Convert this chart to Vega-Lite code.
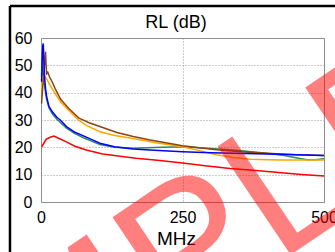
{
  "$schema": "https://vega.github.io/schema/vega-lite/v6.json",
  "autosize": {"type": "none"},
  "width": 283,
  "height": 164,
  "padding": {"left": 41, "top": 38, "right": 11, "bottom": 50},
  "background": "white",
  "config": {
    "font": "Liberation Sans",
    "view": {"stroke": "#888888", "strokeWidth": 1},
    "axis": {
      "domain": false,
      "ticks": false,
      "tickSize": 0,
      "labelFont": "Liberation Sans",
      "labelFontSize": 16,
      "labelColor": "#000000",
      "gridColor": "#999999",
      "gridDash": [1, 2],
      "gridWidth": 1,
      "titleFont": "Liberation Sans",
      "titleFontWeight": "normal",
      "titleColor": "#000000"
    }
  },
  "resolve": {"axis": {"x": "independent", "y": "independent"}},
  "datasets": {
    "rl": [
      {"series": "red", "f": 1, "db": 20.2},
      {"series": "red", "f": 5, "db": 21.5},
      {"series": "red", "f": 9, "db": 22.9},
      {"series": "red", "f": 15, "db": 23.6},
      {"series": "red", "f": 23, "db": 24.1},
      {"series": "red", "f": 30, "db": 23.4},
      {"series": "red", "f": 44, "db": 22.1},
      {"series": "red", "f": 60, "db": 20.4},
      {"series": "red", "f": 80, "db": 19.0},
      {"series": "red", "f": 109, "db": 17.6},
      {"series": "red", "f": 140, "db": 16.7},
      {"series": "red", "f": 168, "db": 16.0},
      {"series": "red", "f": 210, "db": 15.2},
      {"series": "red", "f": 250, "db": 14.3},
      {"series": "red", "f": 290, "db": 13.3},
      {"series": "red", "f": 334, "db": 12.3},
      {"series": "red", "f": 380, "db": 11.5},
      {"series": "red", "f": 420, "db": 10.8},
      {"series": "red", "f": 460, "db": 10.1},
      {"series": "red", "f": 500, "db": 9.5},

      {"series": "green", "f": 1, "db": 46},
      {"series": "green", "f": 2, "db": 52.5},
      {"series": "green", "f": 3, "db": 49},
      {"series": "green", "f": 4, "db": 46},
      {"series": "green", "f": 6, "db": 43},
      {"series": "green", "f": 8, "db": 40},
      {"series": "green", "f": 10, "db": 37.5},
      {"series": "green", "f": 14, "db": 34.5},
      {"series": "green", "f": 20, "db": 32.3},
      {"series": "green", "f": 28, "db": 30.3},
      {"series": "green", "f": 45, "db": 27},
      {"series": "green", "f": 60, "db": 25},
      {"series": "green", "f": 75, "db": 23.5},
      {"series": "green", "f": 104, "db": 21.0},
      {"series": "green", "f": 130, "db": 20.0},
      {"series": "green", "f": 163, "db": 19.7},
      {"series": "green", "f": 200, "db": 19.9},
      {"series": "green", "f": 250, "db": 20.2},
      {"series": "green", "f": 300, "db": 19.6},
      {"series": "green", "f": 340, "db": 19.0},
      {"series": "green", "f": 390, "db": 18.0},
      {"series": "green", "f": 430, "db": 17.0},
      {"series": "green", "f": 455, "db": 16.0},
      {"series": "green", "f": 470, "db": 15.5},
      {"series": "green", "f": 485, "db": 15.5},
      {"series": "green", "f": 500, "db": 15.8},

      {"series": "orange", "f": 1, "db": 40},
      {"series": "orange", "f": 2, "db": 44},
      {"series": "orange", "f": 4, "db": 46},
      {"series": "orange", "f": 6, "db": 46},
      {"series": "orange", "f": 8, "db": 45.5},
      {"series": "orange", "f": 10, "db": 45},
      {"series": "orange", "f": 15, "db": 43},
      {"series": "orange", "f": 20, "db": 41.3},
      {"series": "orange", "f": 25, "db": 39.7},
      {"series": "orange", "f": 35, "db": 36.5},
      {"series": "orange", "f": 50, "db": 33.3},
      {"series": "orange", "f": 66, "db": 30},
      {"series": "orange", "f": 80, "db": 28},
      {"series": "orange", "f": 104, "db": 25.7},
      {"series": "orange", "f": 130, "db": 24.3},
      {"series": "orange", "f": 163, "db": 23.2},
      {"series": "orange", "f": 200, "db": 21.8},
      {"series": "orange", "f": 250, "db": 20.2},
      {"series": "orange", "f": 280, "db": 18.8},
      {"series": "orange", "f": 310, "db": 17.3},
      {"series": "orange", "f": 340, "db": 16.3},
      {"series": "orange", "f": 369, "db": 15.6},
      {"series": "orange", "f": 420, "db": 15.4},
      {"series": "orange", "f": 500, "db": 15.4},

      {"series": "brown", "f": 1, "db": 36},
      {"series": "brown", "f": 3, "db": 42},
      {"series": "brown", "f": 5, "db": 46},
      {"series": "brown", "f": 7, "db": 53},
      {"series": "brown", "f": 8, "db": 55},
      {"series": "brown", "f": 9, "db": 50},
      {"series": "brown", "f": 10, "db": 47},
      {"series": "brown", "f": 12, "db": 47.5},
      {"series": "brown", "f": 15, "db": 45.8},
      {"series": "brown", "f": 20, "db": 43.8},
      {"series": "brown", "f": 25, "db": 41.5},
      {"series": "brown", "f": 35, "db": 37.5},
      {"series": "brown", "f": 50, "db": 34},
      {"series": "brown", "f": 67, "db": 30.7},
      {"series": "brown", "f": 85, "db": 29},
      {"series": "brown", "f": 104, "db": 27.6},
      {"series": "brown", "f": 134, "db": 25.4},
      {"series": "brown", "f": 163, "db": 24.0},
      {"series": "brown", "f": 193, "db": 22.7},
      {"series": "brown", "f": 250, "db": 20.6},
      {"series": "brown", "f": 310, "db": 19.1},
      {"series": "brown", "f": 360, "db": 18.3},
      {"series": "brown", "f": 400, "db": 17.8},
      {"series": "brown", "f": 450, "db": 17.3},
      {"series": "brown", "f": 500, "db": 17.0},

      {"series": "blue", "f": 1, "db": 44},
      {"series": "blue", "f": 2, "db": 52},
      {"series": "blue", "f": 3, "db": 57},
      {"series": "blue", "f": 4, "db": 58},
      {"series": "blue", "f": 5, "db": 52},
      {"series": "blue", "f": 6, "db": 47},
      {"series": "blue", "f": 7, "db": 44},
      {"series": "blue", "f": 8, "db": 41.5},
      {"series": "blue", "f": 10, "db": 38.5},
      {"series": "blue", "f": 14, "db": 35},
      {"series": "blue", "f": 20, "db": 33},
      {"series": "blue", "f": 28, "db": 31},
      {"series": "blue", "f": 34, "db": 30},
      {"series": "blue", "f": 45, "db": 27.6},
      {"series": "blue", "f": 60, "db": 25.5},
      {"series": "blue", "f": 75, "db": 24.2},
      {"series": "blue", "f": 90, "db": 22.8},
      {"series": "blue", "f": 104, "db": 21.5},
      {"series": "blue", "f": 130, "db": 20.2},
      {"series": "blue", "f": 163, "db": 19.4},
      {"series": "blue", "f": 200, "db": 18.9},
      {"series": "blue", "f": 250, "db": 18.4},
      {"series": "blue", "f": 300, "db": 18.0},
      {"series": "blue", "f": 340, "db": 17.8},
      {"series": "blue", "f": 420, "db": 17.5},
      {"series": "blue", "f": 500, "db": 17.0}
    ]
  },
  "layer": [
    {
      "data": {"name": "rl"},
      "mark": {"type": "line", "strokeWidth": 1.5, "interpolate": "linear"},
      "encoding": {
        "x": {
          "field": "f",
          "type": "quantitative",
          "scale": {"domain": [0, 500], "nice": false, "zero": false},
          "axis": {
            "orient": "bottom",
            "values": [0, 250, 500],
            "grid": true,
            "title": "MHz",
            "titleFontSize": 19,
            "titlePadding": 4,
            "titleX": 135,
            "labelPadding": 7,
            "labelFlush": false,
            "labelOverlap": false
          }
        },
        "y": {
          "field": "db",
          "type": "quantitative",
          "scale": {"domain": [0, 60], "nice": false, "zero": false},
          "axis": {
            "orient": "left",
            "values": [0, 10, 20, 30, 40, 50, 60],
            "grid": true,
            "title": null,
            "labelPadding": 9,
            "labelFlush": false,
            "labelOverlap": false
          }
        },
        "color": {
          "field": "series",
          "type": "nominal",
          "scale": {
            "domain": ["red", "green", "orange", "blue", "brown"],
            "range": ["#ff0000", "#2e8b57", "#ffa500", "#0000ff", "#8b4513"]
          },
          "legend": null
        },
        "order": {"field": "f", "type": "quantitative"}
      }
    },
    {
      "data": {"values": [{"t": "SAMPLE"}]},
      "mark": {
        "type": "text",
        "font": "Liberation Sans",
        "fontSize": 190,
        "angle": -34,
        "align": "center",
        "baseline": "alphabetic",
        "color": "#ff0000",
        "opacity": 0.5
      },
      "encoding": {
        "text": {"field": "t"},
        "x": {
          "datum": 194.3,
          "axis": {
            "orient": "top",
            "labels": false,
            "grid": false,
            "ticks": false,
            "domain": false,
            "title": "RL (dB)",
            "titleFontSize": 18,
            "titlePadding": 7,
            "titleX": 134.5
          }
        },
        "y": {"datum": -53.8, "axis": null}
      }
    },
    {
      "data": {"values": [{"k": "frame"}]},
      "mark": {"type": "rule", "color": "#000000", "strokeWidth": 2.5},
      "encoding": {
        "x": {"datum": -54.8, "axis": null},
        "y": {"datum": -30, "axis": null},
        "y2": {"datum": 71.7}
      }
    },
    {
      "data": {"values": [{"k": "frame"}]},
      "mark": {"type": "rule", "color": "#000000", "strokeWidth": 2.5},
      "encoding": {
        "x": {"datum": -54.8, "axis": null},
        "x2": {"datum": 560},
        "y": {"datum": 71.7, "axis": null}
      }
    }
  ]
}
